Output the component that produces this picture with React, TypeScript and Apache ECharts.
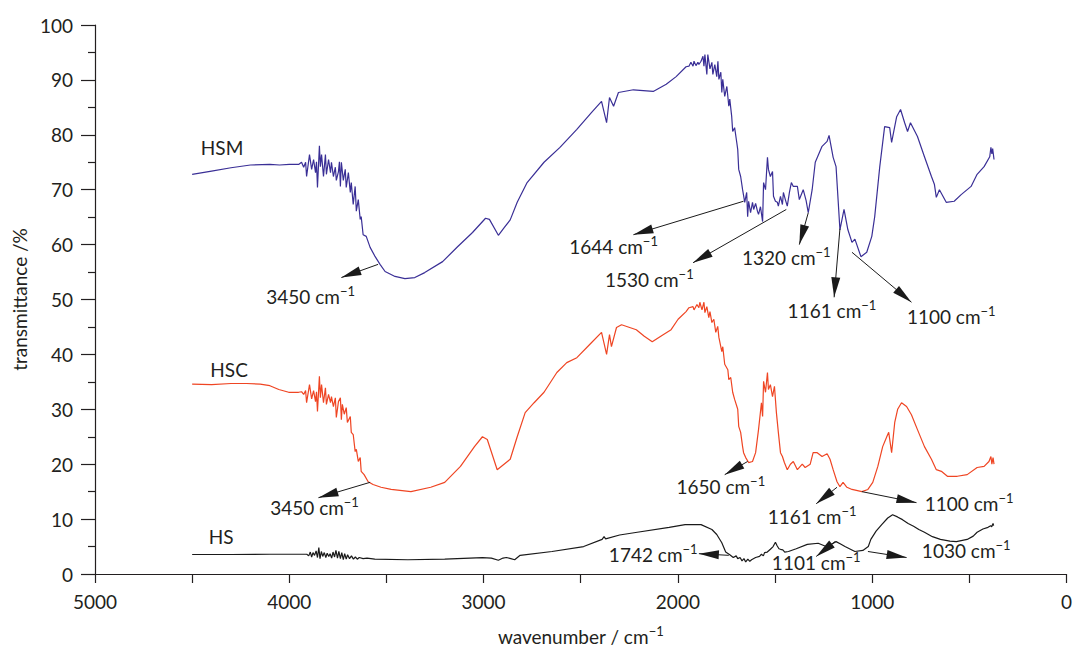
import React, { useEffect, useRef } from "react";
import * as echarts from "echarts";

// ---- data: [wavenumber (cm^-1), transmittance (%)] ----
const hsmData: [number, number][] = [
  [4500,72.8],[4400,73.4],[4300,74.0],[4200,74.5],[4100,74.6],[4050,74.5],[4000,74.6],[3952,74.6],[3937,75.0],[3926,74.1],[3916,75.0],[3911,72.4],[3896,76.4],[3885,73.7],[3875,75.5],[3865,73.1],[3860,75.1],[3855,70.4],[3845,78.0],[3840,74.2],[3834,76.4],[3824,72.4],[3814,76.4],[3809,72.8],[3798,75.5],[3788,73.1],[3783,75.0],[3773,72.4],[3763,74.1],[3758,71.7],[3747,73.3],[3742,75.1],[3737,70.6],[3732,75.0],[3722,71.7],[3712,73.7],[3707,70.4],[3696,73.1],[3686,69.5],[3681,71.3],[3671,67.3],[3661,70.6],[3655,66.1],[3645,68.2],[3635,64.6],[3630,65.1],[3620,61.8],[3604,61.5],[3584,59.5],[3558,57.8],[3533,56.4],[3507,55.1],[3456,54.2],[3405,53.8],[3354,54.0],[3303,54.9],[3211,56.9],[3134,59.6],[3057,62.2],[2990,64.8],[2970,64.6],[2924,61.7],[2894,63.1],[2863,64.5],[2827,67.7],[2776,71.3],[2689,75.0],[2607,77.7],[2520,81.0],[2444,84.1],[2393,86.1],[2367,82.2],[2352,86.8],[2331,85.2],[2306,87.7],[2229,88.2],[2127,87.9],[2060,89.2],[2009,90.6],[1958,92.4],[1943,92.5],[1933,93.2],[1922,92.5],[1917,93.4],[1907,92.6],[1897,93.2],[1892,92.8],[1881,93.4],[1871,94.3],[1866,92.5],[1861,94.6],[1851,91.0],[1846,94.6],[1835,92.0],[1825,93.2],[1820,91.0],[1810,92.8],[1800,90.6],[1794,93.4],[1789,90.1],[1779,91.4],[1774,87.7],[1769,90.1],[1759,87.0],[1748,88.8],[1738,85.2],[1733,86.5],[1723,83.3],[1718,80.6],[1708,81.3],[1697,78.6],[1692,77.3],[1687,73.7],[1677,72.4],[1667,70.0],[1656,67.7],[1646,69.5],[1641,65.1],[1636,67.9],[1626,65.8],[1616,67.7],[1610,66.4],[1600,67.5],[1590,66.0],[1585,65.5],[1575,66.9],[1564,64.2],[1559,71.3],[1549,70.0],[1539,75.9],[1534,73.7],[1524,72.4],[1513,73.3],[1508,68.8],[1498,67.9],[1488,67.7],[1483,67.0],[1472,68.8],[1462,67.3],[1457,69.5],[1447,68.2],[1437,67.0],[1426,69.5],[1416,71.3],[1406,70.6],[1385,70.6],[1375,68.2],[1355,70.0],[1340,68.0],[1329,65.8],[1309,70.0],[1293,75.0],[1258,77.9],[1232,78.8],[1222,79.9],[1201,75.9],[1186,74.2],[1166,62.7],[1145,66.4],[1125,62.7],[1104,60.4],[1089,61.0],[1058,57.8],[1028,58.6],[1002,61.5],[987,65.1],[961,74.2],[936,81.5],[910,81.3],[900,78.6],[874,83.3],[854,84.6],[833,82.2],[818,80.6],[803,82.2],[767,79.7],[731,76.0],[695,72.4],[680,71.0],[670,68.6],[654,70.0],[619,67.7],[578,67.9],[542,69.1],[491,70.6],[460,72.8],[424,74.2],[395,76.0],[389,77.7],[384,76.5],[380,77.5],[373,75.5]
];

const hscData: [number, number][] = [
  [4500,34.6],[4400,34.5],[4300,34.7],[4220,34.7],[4150,34.6],[4100,34.3],[4054,33.6],[4003,33.1],[3952,33.1],[3937,33.2],[3926,32.7],[3916,33.4],[3911,31.2],[3896,34.5],[3885,31.9],[3875,33.4],[3865,31.4],[3860,33.2],[3855,29.6],[3845,36.0],[3840,32.1],[3834,34.5],[3824,31.2],[3814,33.9],[3809,30.9],[3798,32.7],[3788,31.2],[3783,32.3],[3773,30.5],[3763,32.1],[3758,28.5],[3747,31.4],[3737,32.1],[3732,28.1],[3727,30.9],[3717,29.1],[3707,30.3],[3701,27.6],[3686,28.7],[3681,25.8],[3671,25.4],[3661,22.3],[3655,22.7],[3645,20.5],[3635,21.2],[3630,18.7],[3615,18.1],[3594,16.8],[3569,16.3],[3528,15.8],[3476,15.4],[3374,15.0],[3272,15.8],[3200,16.7],[3119,19.6],[3047,23.2],[3006,25.0],[2981,24.5],[2930,19.0],[2863,20.9],[2827,25.0],[2786,29.4],[2740,31.2],[2689,33.1],[2623,36.7],[2572,38.5],[2520,39.4],[2454,41.8],[2393,44.0],[2367,40.0],[2352,43.6],[2342,41.4],[2316,44.9],[2290,45.4],[2214,44.5],[2173,43.3],[2132,42.3],[2076,43.6],[2035,44.5],[1999,46.4],[1958,47.8],[1943,48.5],[1922,48.7],[1917,48.1],[1902,49.1],[1892,48.5],[1887,49.5],[1876,48.1],[1866,49.5],[1861,47.6],[1851,48.7],[1841,46.7],[1835,47.8],[1825,45.8],[1815,46.4],[1805,44.0],[1795,45.1],[1789,43.1],[1774,40.5],[1769,41.4],[1759,38.2],[1743,37.2],[1738,35.4],[1728,35.8],[1718,33.1],[1708,31.8],[1692,30.0],[1687,26.9],[1677,25.8],[1667,23.2],[1662,22.1],[1651,21.2],[1636,20.3],[1616,20.5],[1600,22.1],[1585,26.3],[1570,31.2],[1564,28.7],[1559,35.1],[1549,33.1],[1539,36.7],[1534,33.6],[1524,34.5],[1513,32.3],[1503,34.2],[1493,29.4],[1483,25.8],[1472,22.1],[1462,21.4],[1452,20.3],[1437,19.0],[1421,20.0],[1406,20.5],[1385,19.0],[1360,20.0],[1345,19.4],[1319,20.0],[1304,22.1],[1283,22.1],[1258,21.4],[1232,21.9],[1217,20.9],[1201,19.0],[1181,16.8],[1166,15.9],[1150,16.7],[1130,15.8],[1104,15.4],[1053,15.0],[1022,15.4],[997,16.7],[971,19.6],[946,23.2],[925,25.0],[915,25.8],[900,22.1],[884,27.6],[869,30.0],[849,31.2],[823,30.5],[798,29.0],[767,26.3],[731,23.2],[695,20.9],[670,19.0],[644,18.7],[613,17.8],[562,17.8],[511,18.1],[460,19.4],[424,19.6],[399,20.5],[389,21.4],[384,20.0],[378,21.2],[373,20.0]
];

const hsData: [number, number][] = [
  [4500,3.55],[4300,3.55],[4100,3.6],[3950,3.6],[3910,3.6],[3900,3.3],[3892,4.0],[3885,3.1],[3878,3.9],[3870,3.4],[3862,4.2],[3855,3.0],[3848,4.8],[3842,2.8],[3835,4.1],[3828,3.2],[3820,3.9],[3812,3.0],[3805,3.8],[3797,3.2],[3790,3.7],[3782,2.9],[3775,4.0],[3767,3.1],[3760,4.3],[3752,2.9],[3745,4.1],[3737,2.8],[3730,3.9],[3722,2.6],[3715,3.7],[3707,2.7],[3700,3.5],[3690,2.8],[3680,3.3],[3670,2.7],[3660,3.1],[3650,2.7],[3640,3.0],[3620,2.8],[3600,2.9],[3560,2.7],[3390,2.6],[3200,2.7],[3006,3.0],[2960,2.9],[2924,2.5],[2900,2.9],[2883,3.0],[2860,2.8],[2840,2.6],[2812,3.4],[2648,4.1],[2485,5.0],[2390,6.3],[2380,6.8],[2372,6.4],[2300,7.1],[2209,7.6],[2045,8.5],[1963,9.0],[1881,9.0],[1825,8.1],[1800,7.2],[1774,5.7],[1754,4.0],[1733,3.5],[1715,3.0],[1700,3.3],[1692,2.8],[1680,3.0],[1670,2.4],[1660,2.8],[1651,2.2],[1640,2.7],[1630,2.3],[1621,2.6],[1600,3.0],[1580,3.2],[1570,3.6],[1560,3.3],[1554,3.9],[1540,4.0],[1524,4.5],[1510,5.0],[1498,5.8],[1490,5.2],[1480,4.6],[1472,4.5],[1460,4.4],[1450,4.0],[1431,4.1],[1391,4.6],[1334,5.4],[1278,5.6],[1237,5.0],[1210,5.4],[1186,5.9],[1165,5.5],[1140,5.0],[1089,4.1],[1048,4.3],[1020,5.0],[1007,6.3],[980,7.8],[951,9.0],[920,10.2],[895,10.8],[870,10.4],[844,9.9],[815,9.2],[787,8.7],[760,8.1],[731,7.6],[690,6.8],[649,6.3],[600,6.0],[567,5.9],[511,6.3],[480,6.9],[460,7.6],[430,8.2],[404,8.5],[390,8.8],[385,8.6],[378,9.2],[375,8.8]
];

const seriesNames = ["HSM", "HSC", "HS"];
const seriesColors = ["#3a2f96", "#ef4523", "#1a1a1a"];
// where each series name sits: [wavenumber, transmittance]
const nameSpots: [number, number][] = [[4346, 77.7], [4310, 37.3], [4351, 6.8]];

// band annotations: text, arrow tail (on curve), arrow head, label centre
type Band = { text: string; tail: [number, number]; head: [number, number]; at: [number, number] };
const hsmBands: Band[] = [
  { text: "3450", tail: [3543, 56.4], head: [3732, 54.0], at: [3890, 50.6] },
  { text: "1644", tail: [1662, 67.9], head: [2229, 61.8], at: [2331, 59.7] },
  { text: "1530", tail: [1442, 66.4], head: [1922, 56.7], at: [2147, 53.6] },
  { text: "1320", tail: [1329, 65.8], head: [1375, 60.0], at: [1442, 57.7] },
  { text: "1161", tail: [1166, 62.9], head: [1196, 50.4], at: [1207, 48.0] },
  { text: "1100", tail: [1104, 58.6], head: [798, 49.5], at: [593, 46.9] },
];
const hscBands: Band[] = [
  { text: "3450", tail: [3584, 16.7], head: [3850, 13.9], at: [3870, 12.1] },
  { text: "1650", tail: [1641, 20.5], head: [1759, 18.1], at: [1779, 15.9] },
  { text: "1161", tail: [1181, 15.8], head: [1288, 12.8], at: [1309, 10.5] },
  { text: "1100", tail: [1053, 15.0], head: [772, 13.0], at: [501, 12.8] },
];
const hsBands: Band[] = [
  { text: "1742", tail: [1738, 3.4], head: [1892, 3.7], at: [2127, 3.55] },
  { text: "1101", tail: [1191, 5.9], head: [1288, 3.2], at: [1288, 2.1] },
  { text: "1030", tail: [1022, 4.1], head: [823, 3.0], at: [516, 4.3] },
];

const FONT = "Lato, 'Noto Sans', sans-serif";
const TXT = "#231f20";
const ARROW = "path://M4.5,0L9,20L0,20Z";
const rich = {
  a: { fontSize: 19, fontFamily: FONT, color: TXT, lineHeight: 24 },
  s: { fontSize: 13, fontFamily: FONT, color: TXT, lineHeight: 13, verticalAlign: "top" as const },
};

function makeSeries(i: number, data: [number, number][], bands: Band[]) {
  return {
    type: "line",
    name: seriesNames[i],
    data,
    showSymbol: false,
    symbol: "none",
    lineStyle: { color: seriesColors[i], width: 1.2 },
    itemStyle: { color: seriesColors[i] },
    emphasis: { disabled: true },
    markLine: {
      silent: true,
      animation: false,
      symbol: ["none", ARROW],
      symbolSize: 20,
      symbolKeepAspect: true,
      label: { show: false },
      emphasis: { disabled: true },
      lineStyle: { color: "#1a1a1a", width: 1, type: "solid" },
      itemStyle: { color: "#1a1a1a" },
      data: bands.map((b) => [
        { coord: b.tail },
        { coord: b.head, symbolOffset: [0, 10] },
      ]),
    },
    markPoint: {
      silent: true,
      animation: false,
      symbol: "circle",
      symbolSize: 0,
      itemStyle: { color: "rgba(0,0,0,0)" },
      label: { show: true, position: "inside", rich },
      data: [
        {
          coord: nameSpots[i],
          label: { formatter: "{a|" + seriesNames[i] + "}" },
        },
        ...bands.map((b) => ({
          coord: b.at,
          label: { formatter: "{a|" + b.text + " cm}{s|\u22121}" },
        })),
      ],
    },
  };
}

export default function App() {
  const ref = useRef<HTMLDivElement>(null);
  useEffect(() => {
    const chart = echarts.init(ref.current!, null, { renderer: "svg" });
    const axisLine = { show: true, onZero: false, lineStyle: { color: TXT, width: 1.2 } };
    chart.setOption({
      animation: false,
      grid: { left: 95, right: 2, top: 25, bottom: 82 },
      xAxis: {
        type: "value",
        min: 0,
        max: 5000,
        interval: 500,
        inverse: true,
        name: "{a|wavenumber / cm}{s|\u22121}",
        nameLocation: "middle",
        nameGap: 50,
        nameTextStyle: { rich },
        axisLine,
        axisTick: { show: true, length: 9, inside: false, lineStyle: { color: TXT, width: 1.2 } },
        axisLabel: {
          formatter: (v: number) => (v % 1000 === 0 ? String(v) : ""),
          fontSize: 19,
          fontFamily: FONT,
          color: TXT,
          margin: 18,
          showMinLabel: true,
          showMaxLabel: true,
        },
        splitLine: { show: false },
      },
      yAxis: {
        type: "value",
        min: 0,
        max: 100,
        interval: 10,
        name: "transmittance /%",
        nameLocation: "middle",
        nameGap: 64,
        nameTextStyle: { fontSize: 19, fontFamily: FONT, color: TXT },
        axisLine,
        axisTick: { show: true, length: 14, inside: false, lineStyle: { color: TXT, width: 1.2 } },
        minorTick: { show: true, splitNumber: 2, length: 7, lineStyle: { color: TXT, width: 1.2 } },
        axisLabel: { fontSize: 19, fontFamily: FONT, color: TXT, margin: 22 },
        splitLine: { show: false },
        minorSplitLine: { show: false },
      },
      series: [
        makeSeries(0, hsmData, hsmBands),
        makeSeries(1, hscData, hscBands),
        makeSeries(2, hsData, hsBands),
      ],
    });
    return () => chart.dispose();
  }, []);
  return (
    <div
      ref={ref}
      style={{ position: "absolute", left: 0, top: 0, width: 1075, height: 656 }}
    />
  );
}
